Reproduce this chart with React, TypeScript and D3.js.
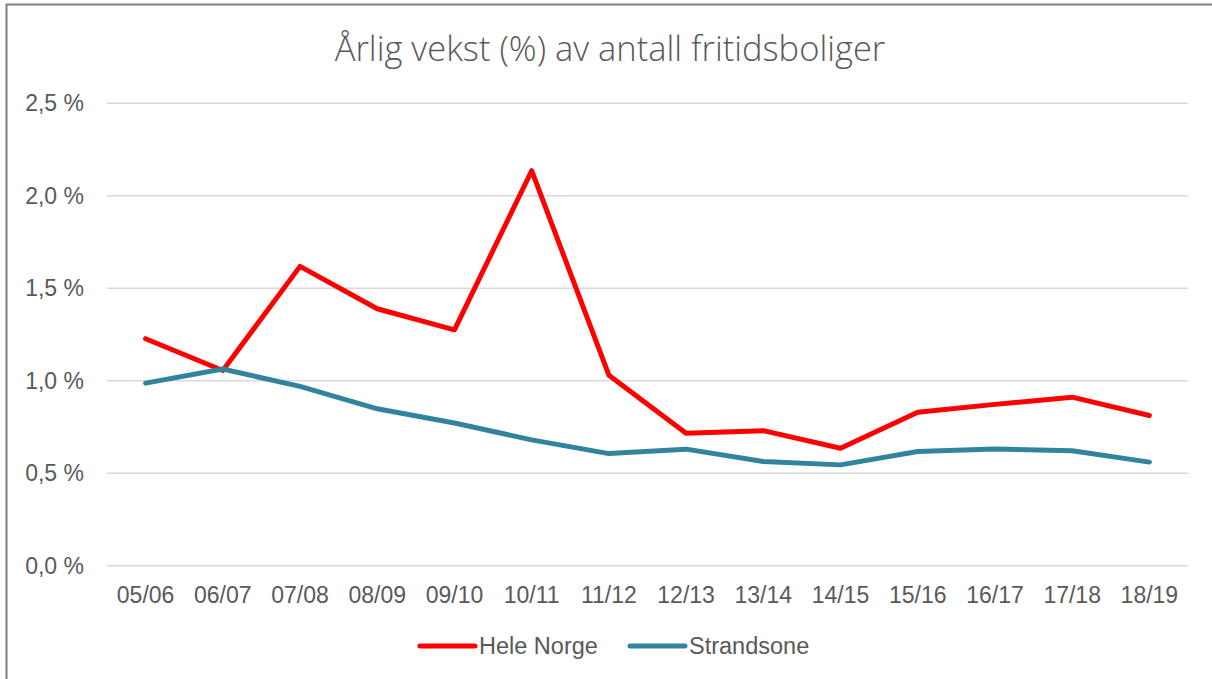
import React from "react";
import * as d3 from "d3";

const categories = ["05/06","06/07","07/08","08/09","09/10","10/11","11/12","12/13","13/14","14/15","15/16","16/17","17/18","18/19"];
const heleNorge = [1.227,1.055,1.618,1.389,1.275,2.135,1.03,0.716,0.73,0.635,0.83,0.872,0.911,0.812];
const strandsone = [0.987,1.063,0.969,0.848,0.771,0.68,0.606,0.63,0.563,0.545,0.617,0.631,0.621,0.56];
const yTicks = [0,0.5,1.0,1.5,2.0,2.5];
const seriesNames = ["Hele Norge","Strandsone"];
const seriesColors = ["#FF0000","#31849B"];

const W = 1212, H = 679;
const left = 107, right = 1188, top = 103.2, bottom = 565.7;

export default function App() {
  const x = d3.scaleBand<string>().domain(categories).range([left, right]);
  const y = d3.scaleLinear().domain([0, 2.5]).range([bottom, top]);
  const line = d3.line<number>()
    .x((_, i) => (x(categories[i]) as number) + x.bandwidth() / 2)
    .y(d => y(d));
  const fmt = (v: number) => v.toFixed(1).replace(".", ",") + " %";
  const data = [heleNorge, strandsone];
  const tickFont = "'Liberation Sans', Arial, sans-serif";
  return (
    <svg width={W} height={H} style={{ position: "fixed", left: 0, top: 0, background: "#fff" }}>
      <rect x={0} y={0} width={W} height={H} fill="#fff" />
      <rect x={6.5} y={4.5} width={1220} height={700} fill="none" stroke="#7f7f7f" strokeWidth={2} />
      <text x={610} y={61} textAnchor="middle" fontFamily="'Open Sans', sans-serif" fontWeight={300} fontSize={34.5} fill="#595959">
        Årlig vekst (%) av antall fritidsboliger
      </text>
      {yTicks.map(t => (
        <g key={t}>
          <line x1={left} x2={right} y1={y(t)} y2={y(t)} stroke="#d9d9d9" strokeWidth={1.5} />
          <text x={84} y={y(t)} dy="0.35em" textAnchor="end" fontFamily={tickFont} fontSize={23} fill="#595959">{fmt(t)}</text>
        </g>
      ))}
      {categories.map(c => (
        <text key={c} x={(x(c) as number) + x.bandwidth() / 2} y={603} textAnchor="middle" fontFamily={tickFont} fontSize={23} fill="#595959">{c}</text>
      ))}
      {data.map((d, i) => (
        <path key={i} d={line(d) || ""} fill="none" stroke={seriesColors[i]} strokeWidth={5} strokeLinejoin="round" strokeLinecap="round" />
      ))}
      {seriesNames.map((n, i) => {
        const lx = i === 0 ? 420 : 630;
        return (
          <g key={n}>
            <line x1={lx} x2={lx + 55} y1={646} y2={646} stroke={seriesColors[i]} strokeWidth={5} strokeLinecap="round" />
            <text x={lx + 59} y={646} dy="0.35em" fontFamily={tickFont} fontSize={23.5} fill="#595959">{n}</text>
          </g>
        );
      })}
    </svg>
  );
}
